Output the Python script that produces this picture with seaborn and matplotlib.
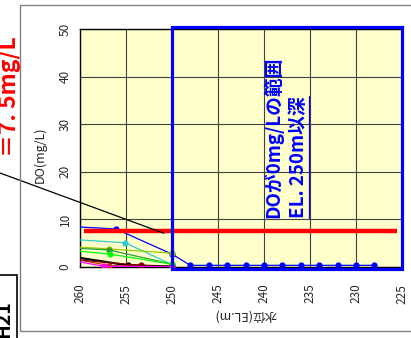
import matplotlib
matplotlib.use("Agg")
import matplotlib.pyplot as plt
import seaborn as sns
import pandas as pd
from matplotlib.patches import Rectangle

sns.set_theme(style="white")
plt.rcParams['font.family'] = ['Noto Sans CJK JP', 'DejaVu Sans']

# ---- data (water level EL.m vs DO mg/L) ----
blue_el = [261, 256.1, 250, 248, 246, 244, 242, 240, 238, 236, 234, 232, 230, 228]
blue_do = [8.5, 8.0, 2.7, 0.35, 0.35, 0.35, 0.35, 0.35, 0.35, 0.35, 0.35, 0.35, 0.35, 0.35]
cyan_el = [261, 255.1, 250]
cyan_do = [5.8, 5.1, 0.5]
ygreen_el = [261, 256.9, 250]
ygreen_do = [4.3, 3.8, 2.9]
dgreen_el = [261, 256.9, 250]
dgreen_do = [4.0, 3.6, 0.6]
lime_el = [261, 256.7, 250]
lime_do = [3.5, 2.7, 0.6]
black_el = [261, 254.8, 250]
black_do = [2.2, 0.35, 0.1]
brown_el = [261, 256.8, 250]
brown_do = [1.8, 0.3, 0.05]
darkred_el = [261, 253.4, 250]
darkred_do = [1.6, 0.35, 0.05]
magenta_el = [261, 257.4, 250]
magenta_do = [1.4, 0.15, 0.05]

series_names = ["blue", "cyan", "ygreen", "dgreen", "lime", "black", "brown", "darkred", "magenta"]
series_el = [blue_el, cyan_el, ygreen_el, dgreen_el, lime_el, black_el, brown_el, darkred_el, magenta_el]
series_do = [blue_do, cyan_do, ygreen_do, dgreen_do, lime_do, black_do, brown_do, darkred_do, magenta_do]
series_colors = ["#0000FF", "#33CCCC", "#99CC00", "#339933", "#00FF00", "#000000", "#CC3300", "#800000", "#FF00FF"]

threshold_el = [259.6, 225.5]
threshold_do = [7.5, 7.5]
zone_el = [250, 225]
zone_do = [-0.4, 50.4]

x_ticks = [260, 255, 250, 245, 240, 235, 230, 225]
y_ticks = [0, 10, 20, 30, 40, 50]

rows = []
for name, els, dos in zip(series_names, series_el, series_do):
    for e, d in zip(els, dos):
        rows.append({"series": name, "el": e, "do": d})
df = pd.DataFrame(rows)

W, H = 411, 338
fig = plt.figure(figsize=(W / 100, H / 100), dpi=100)
fig.patch.set_facecolor("white")
ax = fig.add_axes([80 / W, 1 - 267 / H, 322 / W, 238 / H])
ax.set_facecolor("#FFFFCC")

# outer frame
fig.add_artist(Rectangle((20 / W, 1 - 331 / H), 1.0, 326 / H, transform=fig.transFigure,
                         fill=False, edgecolor="#808080", lw=1.0))

for name, col in zip(series_names, series_colors):
    sub = df[df["series"] == name]
    lw = 1.6 if name == "black" else 0.9
    sns.lineplot(data=sub, x="el", y="do", ax=ax, color=col, lw=lw, marker="o",
                 markersize=4.5, markeredgewidth=0, sort=False, estimator=None,
                 legend=False, zorder=3)

ax.plot(threshold_el, threshold_do, color="#FF0000", lw=3.2, solid_capstyle="butt", zorder=4)

ax.add_patch(Rectangle((zone_el[0], zone_do[0]), zone_el[1] - zone_el[0], zone_do[1] - zone_do[0],
                       fill=False, edgecolor="#0000FF", lw=2.3, clip_on=False, zorder=5))

ax.set_xlim(260, 225)
ax.set_ylim(0, 50)
ax.set_xticks(x_ticks)
ax.set_yticks(y_ticks)
ax.grid(True, color="#404040", lw=0.8)
ax.tick_params(axis="x", length=0, pad=12, labelsize=8.5, labelrotation=90)
ax.tick_params(axis="y", length=0, pad=6, labelsize=8.5, labelrotation=90)
for lab in ax.get_yticklabels():
    lab.set_va("center")
ax.set_xlabel("")
ax.set_ylabel("")
for s in ax.spines.values():
    s.set_color("#000000")
    s.set_linewidth(1.0)

fig.text(40 / W, 1 - 155 / H, "DO(mg/L)", rotation=90, ha="center", va="center", fontsize=9)
fig.text(245 / W, 1 - 315 / H, "水位(EL.m)", rotation=180, ha="center", va="center", fontsize=9)

ax.text(239.0, 10.3, "DOが0mg/Lの範囲", rotation=90, ha="center", va="bottom",
        color="#0000FF", fontsize=13.5, fontweight="bold", zorder=6)
t2 = ax.text(236.3, 10.3, "EL. 250m以深", rotation=90, ha="center", va="bottom",
             color="#0000FF", fontsize=13.5, fontweight="bold", zorder=6)

# callout text and line
fig.text(21 / W, 1 - 157 / H, "＝7. 5mg/L", rotation=90, ha="right", va="bottom",
         color="#FF0000", fontsize=16.5, fontweight="bold")
ax.annotate("", xy=(250.9, 7.1), xycoords="data", xytext=(0, 1 - 173 / H),
            textcoords="figure fraction",
            arrowprops=dict(arrowstyle="-", color="black", lw=0.9, shrinkA=0, shrinkB=0),
            annotation_clip=False, zorder=6)

fig.add_artist(Rectangle((-10 / W, 1 - 350 / H), 27 / W, 75 / H, transform=fig.transFigure,
                         facecolor="white", edgecolor="black", lw=1.2))
fig.text(13 / W, 1 - 300 / H, "H21", rotation=90, ha="right", va="top",
         color="black", fontsize=14, fontweight="bold")

# underline for second blue line
fig.canvas.draw()
bb = t2.get_window_extent()
fig.add_artist(plt.Line2D([(bb.x1 + 1) / W] * 2, [bb.y0 / H, bb.y1 / H],
                          transform=fig.transFigure, color="#0000FF", lw=0.9))

fig.savefig("out.png", dpi=100)
